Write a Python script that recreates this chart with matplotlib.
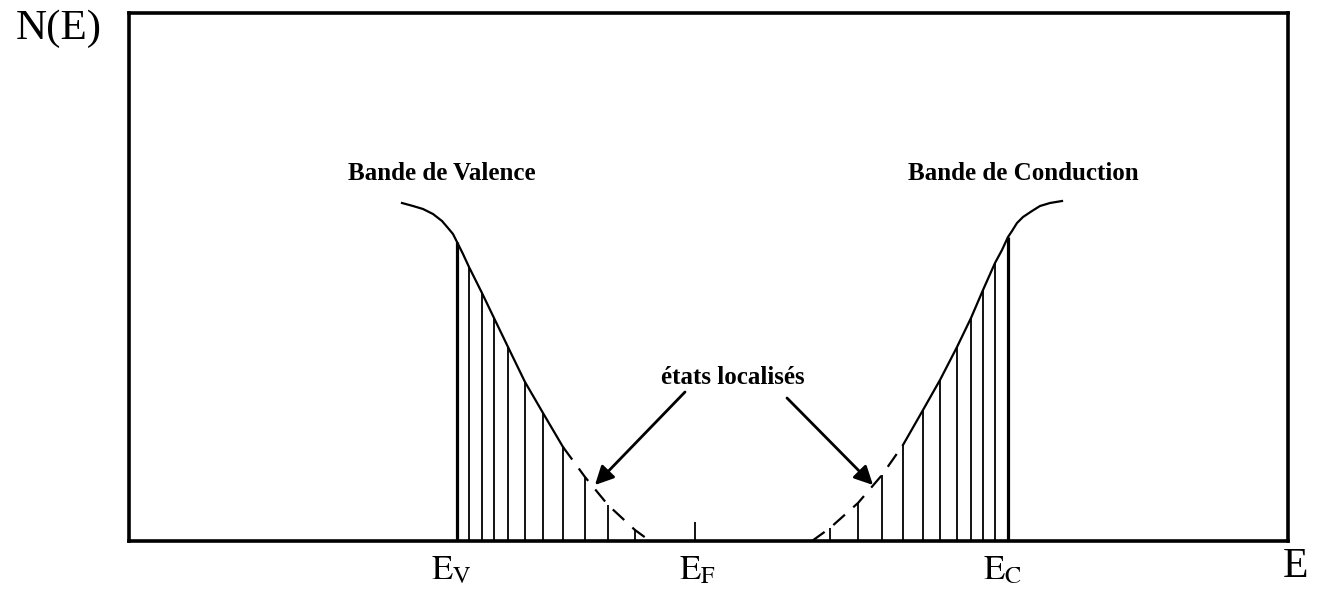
import numpy as np
import matplotlib
matplotlib.use("Agg")
import matplotlib.pyplot as plt

plt.rcParams['font.family'] = ['Liberation Serif', 'DejaVu Serif']
plt.rcParams['mathtext.fontset'] = 'stix'

val_E = [273, 284, 294, 304, 313, 319, 324, 328, 334, 340, 353, 365, 379, 396, 414, 434]
val_N = [338, 335, 332, 327, 320, 313, 307, 299, 287, 274, 248, 223, 194, 159, 128, 94]
val_tail_E = [434, 456, 479, 506, 521]
val_tail_N = [94, 64, 36, 11, 0]

cond_E = [774, 794, 811, 828, 842, 854, 866, 873, 879, 883, 888, 894, 903, 911, 921, 933]
cond_N = [96, 131, 161, 194, 223, 251, 278, 291, 304, 310, 318, 324, 330, 335, 338, 340]
cond_tail_E = [683, 701, 729, 753, 774]
cond_tail_N = [0, 13, 38, 66, 96]

# etats (traits verticaux)
val_states_E = [328, 340, 353, 365, 379, 396, 414, 434, 456, 479, 506]
val_states_N = [299, 274, 248, 223, 194, 159, 128, 94, 64, 36, 11]
cond_states_E = [701, 729, 753, 774, 794, 811, 828, 842, 854, 866, 879]
cond_states_N = [13, 38, 66, 96, 131, 161, 194, 223, 251, 278, 304]

E_V, E_F, E_C = 328, 566, 879
EF_tick = 19

fig = plt.figure(figsize=(13.22, 5.92), dpi=100)
ax = fig.add_axes([129/1322, 51/592, 1159/1322, 528/592])
ax.set_xlim(0, 1159)
ax.set_ylim(0, 528)
ax.set_xticks([])
ax.set_yticks([])
for s in ax.spines.values():
    s.set_linewidth(2.6)

# courbes
ax.plot(val_E, val_N, color='black', lw=1.6, solid_joinstyle='round')
ax.plot(val_tail_E, val_tail_N, color='black', lw=1.6, ls=(0, (7, 5)))
ax.plot(cond_E, cond_N, color='black', lw=1.6, solid_joinstyle='round')
ax.plot(cond_tail_E, cond_tail_N, color='black', lw=1.6, ls=(0, (7, 5)))

# traits verticaux
lw_v = [2.3] + [1.3] * (len(val_states_E) - 1)
ax.vlines(val_states_E, 0, val_states_N, colors='black', lw=lw_v)
lw_c = [1.3] * (len(cond_states_E) - 1) + [2.3]
ax.vlines(cond_states_E, 0, cond_states_N, colors='black', lw=lw_c)
ax.vlines([E_F], 0, EF_tick, colors='black', lw=1.3)

# textes
ax.text(313, 367, 'Bande de Valence', fontsize=18, fontweight='bold',
        ha='center', va='center')
ax.text(779, 367, 'Bande de Conduction', fontsize=18, fontweight='bold',
        ha='left', va='center')
ax.text(604, 163, 'états localisés', fontsize=18, fontweight='bold',
        ha='center', va='center')

arrow = dict(arrowstyle='-|>', color='black', lw=2, mutation_scale=28,
             shrinkA=0, shrinkB=0)
ax.annotate('', xy=(466, 56), xytext=(556, 149), arrowprops=arrow)
ax.annotate('', xy=(744, 56), xytext=(658, 143), arrowprops=arrow)

ax.text(E_V - 6, -30, r'$\mathrm{E}_\mathrm{V}$', fontsize=25,
        ha='center', va='center', clip_on=False)
ax.text(E_F + 2, -30, r'$\mathrm{E}_\mathrm{F}$', fontsize=25,
        ha='center', va='center', clip_on=False)
ax.text(E_C - 5, -30, r'$\mathrm{E}_\mathrm{C}$', fontsize=25,
        ha='center', va='center', clip_on=False)
ax.text(1166, -26, 'E', fontsize=30, ha='center', va='center', clip_on=False)
ax.text(-70, 512, 'N(E)', fontsize=31, ha='center', va='center', clip_on=False)

fig.savefig('out.png', dpi=100)
